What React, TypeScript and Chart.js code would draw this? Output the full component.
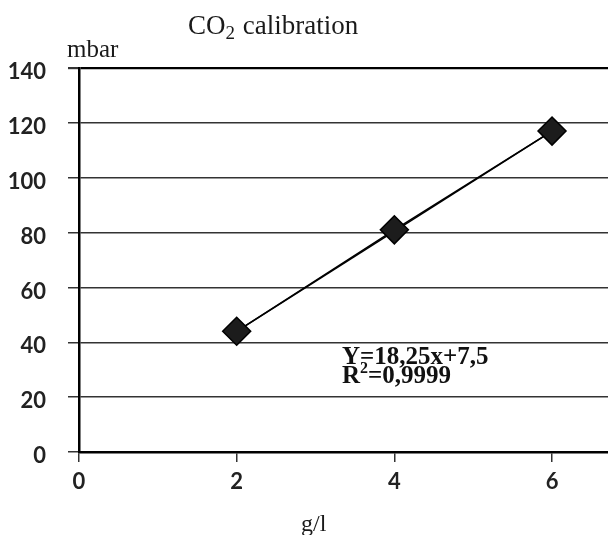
import React, { useEffect, useRef } from "react";
import { Chart, registerables } from "chart.js";

Chart.register(...registerables);

const xValues = [2, 4, 6];
const yValues = [44, 81, 117];
const trendX = [2, 6];
const trendY = [44, 117];
const xTicks = [0, 2, 4, 6];
const yTicks = [0, 20, 40, 60, 80, 100, 120, 140];
const titleMain = "CO";
const titleSub = "2";
const titleRest = " calibration";
const yUnit = "mbar";
const xUnit = "g/l";
const equation = "Y=18,25x+7,5";
const r2Label = "R";
const r2Sup = "2";
const r2Value = "=0,9999";

const SERIF = "'Liberation Serif', 'DejaVu Serif', serif";
const SANS = "Lato, 'Open Sans', sans-serif";

const textPlugin = {
  id: "texts",
  afterDraw(chart: any) {
    const ctx = chart.ctx as any;
    ctx.save();
    ctx.fillStyle = "#1a1a1a";
    ctx.textBaseline = "alphabetic";
    ctx.textAlign = "left";
    // title
    let x = 188;
    ctx.font = `27px ${SERIF}`;
    ctx.fillText(titleMain, x, 34);
    x += ctx.measureText(titleMain).width;
    ctx.font = `19px ${SERIF}`;
    ctx.fillText(titleSub, x, 39);
    x += ctx.measureText(titleSub).width + 1;
    ctx.font = `27px ${SERIF}`;
    ctx.fillText(titleRest, x, 34);
    // y unit
    ctx.font = `25px ${SERIF}`;
    ctx.fillText(yUnit, 67, 57);
    // x unit
    ctx.font = `24px ${SERIF}`;
    ctx.fillText(xUnit, 301, 531);
    // equation
    ctx.fillStyle = "#111";
    ctx.font = `bold 25px ${SERIF}`;
    ctx.fillText(equation, 342, 364);
    let rx = 342;
    ctx.fillText(r2Label, rx, 383);
    rx += ctx.measureText(r2Label).width;
    ctx.font = `bold 16px ${SERIF}`;
    ctx.fillText(r2Sup, rx, 373);
    rx += ctx.measureText(r2Sup).width;
    ctx.font = `bold 25px ${SERIF}`;
    ctx.fillText(r2Value, rx, 383);
    ctx.restore();
  },
};

export default function App() {
  const ref = useRef<HTMLCanvasElement>(null);
  useEffect(() => {
    document.body.style.margin = "0";
    const canvas = ref.current!;
    const chart = new Chart(canvas, {
      type: "scatter",
      data: {
        datasets: [
          {
            label: "trend",
            data: trendX.map((v, i) => ({ x: v, y: trendY[i] })),
            showLine: true,
            borderColor: "#000",
            borderWidth: 1.5,
            pointRadius: 0,
            order: 2,
          },
          {
            label: "data",
            data: xValues.map((v, i) => ({ x: v, y: yValues[i] })),
            showLine: true,
            borderColor: "#000",
            borderWidth: 1.5,
            pointStyle: "rectRot",
            pointRadius: 14,
            pointBackgroundColor: "#1c1c1c",
            pointBorderColor: "#000",
            pointBorderWidth: 1.5,
            order: 1,
          },
        ],
      },
      options: {
        animation: false,
        responsive: false,
        layout: { autoPadding: false, padding: { top: 68, right: 0, left: 0, bottom: 0 } },
        plugins: {
          legend: { display: false },
          title: { display: false },
          tooltip: { enabled: false },
        },
        scales: {
          x: {
            type: "linear",
            min: 0,
            max: 6.71,
            afterBuildTicks: (scale: any) => {
              scale.ticks = xTicks.map((v) => ({ value: v }));
            },
            afterFit: (scale: any) => {
              scale.height = 83;
              scale.paddingRight = 0;
              scale.paddingLeft = 0;
            },
            grid: {
              drawOnChartArea: false,
              drawTicks: true,
              tickLength: 10,
              tickColor: "#333",
              lineWidth: 1.5,
            },
            border: { display: true, color: "#000", width: 2.5 },
            ticks: {
              padding: 7,
              color: "#222",
              font: { family: SANS, size: 22, weight: "bold" },
              maxRotation: 0,
            },
          },
          y: {
            type: "linear",
            min: 0,
            max: 140,
            afterBuildTicks: (scale: any) => {
              scale.ticks = yTicks.map((v) => ({ value: v }));
            },
            afterFit: (scale: any) => {
              scale.width = 79;
              scale.paddingTop = 0;
              scale.paddingBottom = 0;
            },
            grid: {
              color: (c: any) => (c.tick && c.tick.value === 140 ? "#000" : "#333"),
              lineWidth: (c: any) => (c.tick && c.tick.value === 140 ? 2.2 : 1.5),
              tickLength: 11,
              tickColor: "#333",
            },
            border: { display: true, color: "#000", width: 2.5 },
            ticks: {
              padding: 22,
              labelOffset: 4,
              color: "#222",
              font: { family: SANS, size: 22, weight: "bold" },
            },
          },
        },
      },
      plugins: [textPlugin],
    });
    return () => chart.destroy();
  }, []);
  return (
    <div style={{ width: 608, height: 535 }}>
      <canvas ref={ref} width={608} height={535} style={{ display: "block" }} />
    </div>
  );
}
